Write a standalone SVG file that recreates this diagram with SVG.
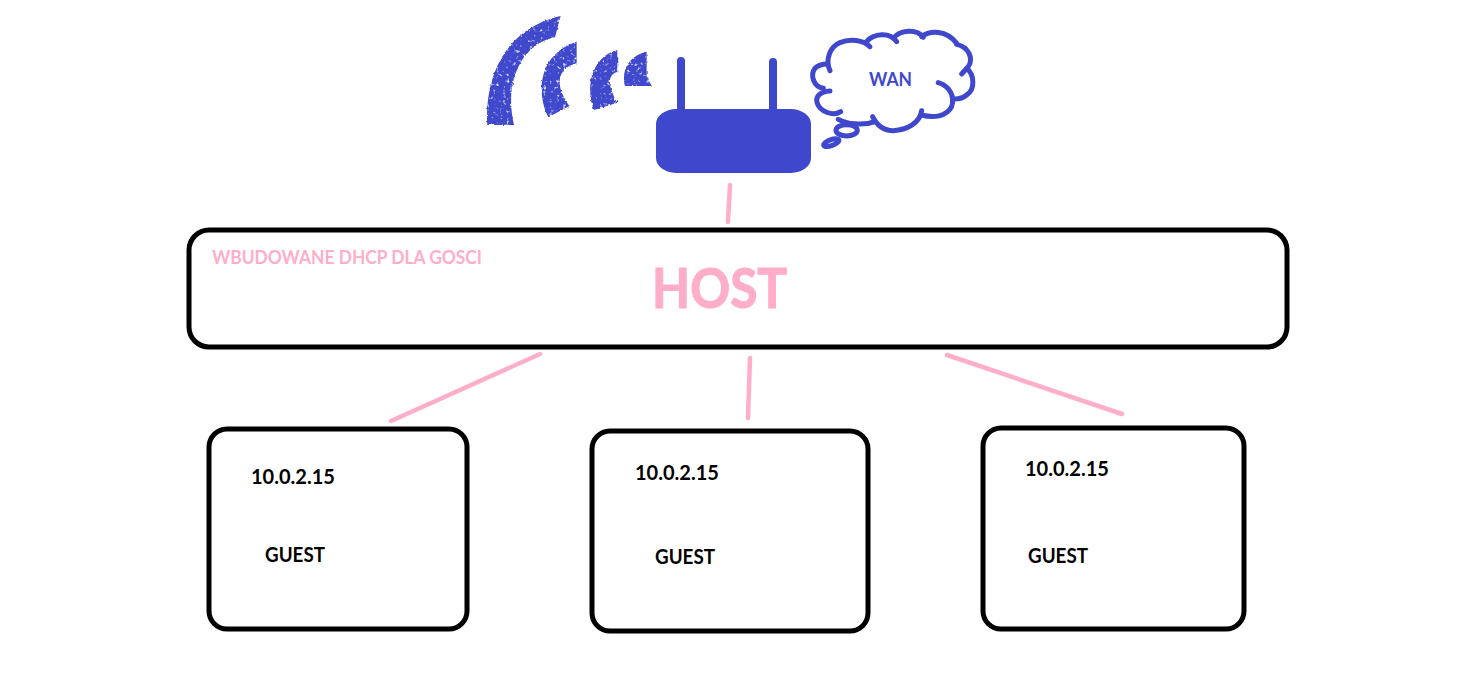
<svg xmlns="http://www.w3.org/2000/svg" width="1473" height="682" viewBox="0 0 1473 682">
<style>
text{font-family:"Lato","Open Sans","Liberation Sans",sans-serif;font-weight:700}
.box{fill:#fff;stroke:#000;stroke-width:5}
.lbl{font-size:20px;fill:#000}
.pink{fill:#ffaec9}
.link{fill:none;stroke:#ffaec9;stroke-width:4.5;stroke-linecap:round;stroke-linejoin:round}
.blue{fill:#3f48cc}
.ant{stroke:#3f48cc;stroke-width:8;stroke-linecap:round;fill:none}
.cloud{fill:none;stroke:#3f48cc;stroke-width:15;stroke-linecap:round}
</style>
<defs>
<filter id="rough" x="-20%" y="-20%" width="140%" height="140%">
<feTurbulence type="fractalNoise" baseFrequency="0.3" numOctaves="2" seed="4" result="n"/>
<feColorMatrix in="n" type="matrix" values="0 0 0 0 0  0 0 0 0 0  0 0 0 0 0  0 0 0 -3.5 3.1" result="holes"/>
<feDisplacementMap in="SourceGraphic" in2="n" scale="3" xChannelSelector="R" yChannelSelector="G" result="d"/>
<feGaussianBlur in="d" stdDeviation="0.7" result="b"/>
<feComposite in="b" in2="holes" operator="in"/>
</filter>
</defs>
<rect width="1473" height="682" fill="#fff"/>
<g id="connectors">
<path class="link" d="M730,185L729,203L728,222"/>
<path class="link" d="M540,354L391,421"/>
<path class="link" d="M750,358L748,418"/>
<path class="link" d="M947,355L1122,414"/>
</g>
<g id="wifi" filter="url(#rough)">
<g class="blue" transform="translate(470 0) scale(.3333)">
<path d="M52,375C45,250 90,90 272,48L255,112C160,130 100,240 132,375Z"/>
<path d="M235,352C195,270 210,160 320,125L320,190C265,205 250,250 298,318Z"/>
<path d="M372,330C345,260 365,170 442,150L442,215C410,225 415,260 442,308Z"/>
<path d="M465,258C455,215 470,170 530,155L530,230L545,258Z"/>
</g>
</g>
<g id="router">
<path class="ant" d="M681,61V115M773,62V115"/>
<rect class="blue" x="656" y="109" width="155" height="64" rx="20" ry="15"/>
</g>
<g id="wan">
<g transform="translate(470 0) scale(.3333)">
<path class="cloud" d="M1080,212C1065,180 1080,140 1110,128C1140,115 1180,120 1200,140"/>
<path class="cloud" d="M1190,125C1210,100 1260,95 1280,125"/>
<path class="cloud" d="M1270,115C1290,90 1340,85 1360,112"/>
<path class="cloud" d="M1355,110C1380,90 1430,90 1460,130"/>
<path class="cloud" d="M1460,133C1495,140 1512,175 1495,200L1475,222"/>
<path class="cloud" d="M1490,205C1515,225 1515,270 1490,285C1478,295 1465,297 1455,297"/>
<path class="cloud" d="M1405,248C1440,258 1455,290 1445,320C1430,350 1390,355 1355,345"/>
<path class="cloud" d="M1355,332C1350,370 1310,390 1270,392C1240,392 1220,375 1208,350"/>
<path class="cloud" d="M1215,365C1180,378 1130,372 1105,358"/>
<path class="cloud" d="M1112,335C1090,350 1050,335 1042,310C1035,290 1050,275 1080,273"/>
<path class="cloud" d="M1060,265C1030,260 1020,225 1035,205C1045,195 1060,192 1072,192"/>
<ellipse class="cloud" cx="1130" cy="391" rx="32" ry="17"/>
<ellipse class="cloud" cx="1084" cy="428" rx="24" ry="9" transform="rotate(-20 1084 428)"/>
</g>
<text class="blue" x="869" y="86" font-size="18" textLength="43" lengthAdjust="spacingAndGlyphs">WAN</text>
</g>
<g id="host">
<rect class="box" x="189" y="230" width="1098" height="117" rx="20"/>
<text class="pink" x="212" y="264" font-size="18" textLength="270" lengthAdjust="spacingAndGlyphs">WBUDOWANE DHCP DLA GOSCI</text>
<text class="pink" x="652" y="308" font-size="56" stroke="#ffaec9" stroke-width="1.2" textLength="135" lengthAdjust="spacingAndGlyphs">HOST</text>
</g>
<g id="guest1">
<rect class="box" x="209" y="429" width="258" height="200" rx="18"/>
<text class="lbl" x="251" y="484" textLength="84" lengthAdjust="spacingAndGlyphs">10.0.2.15</text>
<text class="lbl" x="265" y="562" textLength="60" lengthAdjust="spacingAndGlyphs">GUEST</text>
</g>
<g id="guest2">
<rect class="box" x="592" y="431" width="276" height="200" rx="18"/>
<text class="lbl" x="635" y="480" textLength="84" lengthAdjust="spacingAndGlyphs">10.0.2.15</text>
<text class="lbl" x="655" y="564" textLength="60" lengthAdjust="spacingAndGlyphs">GUEST</text>
</g>
<g id="guest3">
<rect class="box" x="983" y="428" width="261" height="201" rx="18"/>
<text class="lbl" x="1025" y="476" textLength="84" lengthAdjust="spacingAndGlyphs">10.0.2.15</text>
<text class="lbl" x="1028" y="563" textLength="60" lengthAdjust="spacingAndGlyphs">GUEST</text>
</g>
</svg>
